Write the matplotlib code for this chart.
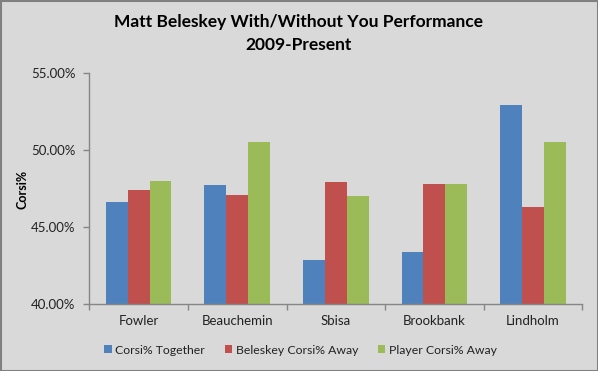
import matplotlib
matplotlib.use("Agg")
import matplotlib.pyplot as plt
import numpy as np
from matplotlib.ticker import FuncFormatter, MultipleLocator, FixedLocator
from matplotlib.patches import Rectangle

players = ["Fowler", "Beauchemin", "Sbisa", "Brookbank", "Lindholm"]
together = [46.63, 47.73, 42.87, 43.39, 52.91]
beleskey_away = [47.40, 47.08, 47.92, 47.79, 46.30]
player_away = [47.99, 50.53, 47.01, 47.79, 50.53]
series_names = ["Corsi% Together", "Beleskey Corsi% Away", "Player Corsi% Away"]
colors = ["#4F81BD", "#C0504D", "#9BBB59"]

bg = "#D9D9D9"
plt.rcParams['font.family'] = ['Lato', 'DejaVu Sans']

fig = plt.figure(figsize=(5.98, 3.71), dpi=100, facecolor=bg)
ax = fig.add_axes([89.3/598, 1-304.3/371, (582.3-89.3)/598, (304.3-72.7)/371])
ax.set_facecolor(bg)

x = np.arange(len(players))
w = 1/4.5
for i, (vals, name, c) in enumerate(zip([together, beleskey_away, player_away], series_names, colors)):
    ax.bar(x + (i-1)*w, vals, width=w, color=c, label=name, zorder=2)

ax.set_ylim(40, 55)
ax.set_xlim(-0.5, len(players)-0.5)
ax.yaxis.set_major_locator(MultipleLocator(5))
ax.yaxis.set_major_formatter(FuncFormatter(lambda v, p: f"{v:.2f}%"))
ax.xaxis.set_major_locator(FixedLocator(np.arange(-0.5, len(players), 1.0)))
ax.xaxis.set_major_formatter(FuncFormatter(lambda v, p: ""))
ax.xaxis.set_minor_locator(FixedLocator(x))
ax.set_xticklabels(players, minor=True)
ax.tick_params(axis='x', which='minor', length=0, pad=8, labelsize=9.5, labelcolor="#222222")
ax.tick_params(axis='x', which='major', length=4, color="#868686", width=1)
ax.tick_params(axis='y', length=4, color="#868686", width=1, pad=6, labelsize=9.5, labelcolor="#222222")
for s in ["top", "right"]:
    ax.spines[s].set_visible(False)
for s in ["left", "bottom"]:
    ax.spines[s].set_color("#868686")
    ax.spines[s].set_linewidth(1)

fig.text(22.7/598, 1-189/371, "Corsi%", rotation=90, ha="center", va="center",
         fontsize=9, fontweight="bold", color="#000000")
fig.text(298.5/598, 1-22.3/371, "Matt Beleskey With/Without You Performance",
         ha="center", va="center", fontsize=12.5, fontweight="bold")
fig.text(298.5/598, 1-45/371, "2009-Present", ha="center", va="center", fontsize=12.5, fontweight="bold")

leg = fig.legend(loc="center", bbox_to_anchor=(300.5/598, 1-350/371), ncol=3, frameon=False,
                 fontsize=8.8, handlelength=0.6, handleheight=0.6, handletextpad=0.3,
                 columnspacing=1.6, labelcolor="#222222")

fig.add_artist(Rectangle((0.5/598, 0.5/371), 1-1/598, 1-1/371, transform=fig.transFigure,
                         fill=False, edgecolor="#808080", linewidth=1.5))

fig.savefig("out.png", dpi=100, facecolor=bg)
